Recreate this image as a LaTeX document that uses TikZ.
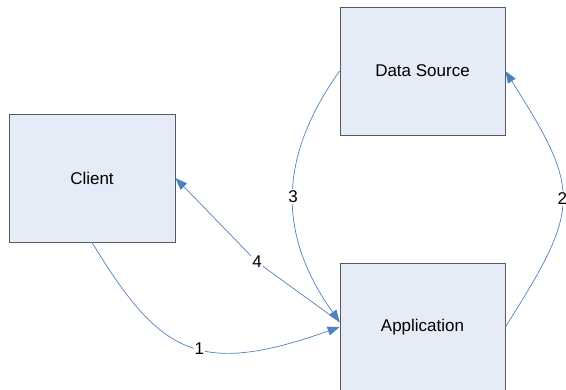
\documentclass[tikz,border=0pt]{standalone}
\usepackage{fontspec}
\setmainfont{Liberation Sans}
\usetikzlibrary{arrows.meta,calc,shadows}
\definecolor{boxfill}{HTML}{E6ECF7}
\definecolor{boxline}{HTML}{5A5A5A}
\definecolor{conncol}{HTML}{4F81BD}
\begin{document}
\begin{tikzpicture}[x=1pt,y=-1pt,
  box/.style={draw=boxline, fill=boxfill, line width=0.8pt, minimum width=165pt,
    minimum height=128pt, inner sep=0pt, font=\fontsize{17}{20}\selectfont,
    drop shadow={shadow xshift=1pt, shadow yshift=-1pt, fill=black!50, opacity=0.6}},
  conn/.style={draw=conncol, line width=0.7pt, -{Triangle[length=12pt,width=9pt]}},
  lbl/.style={fill=white, inner sep=1pt, font=\fontsize{17}{20}\selectfont}]
\useasboundingbox (0,0) rectangle (566,390);
\node[box, minimum width=166pt] (client) at (92,178) {Client};
\node[box] (ds) at (422.5,71) {Data Source};
\node[box] (app) at (422.5,327) {Application};
\coordinate (a3) at ($(app.west)+(0,-5)$);
\coordinate (k4) at (257,262);
\draw[conn] (client.south) .. controls +(68,112) and +(-141,50) .. (app.west)
  node[lbl, pos=0.55] {1};
\draw[conn] (app.east) .. controls +(76,-120) and +(76,120) .. (ds.east)
  node[lbl, pos=0.5] {2};
\draw[conn] (ds.west) .. controls +(-62,87) and +(-62,-87) .. (a3)
  node[lbl, pos=0.5] {3};
\draw[conn, rounded corners=8pt] (a3) -- (k4) -- (client.east);
\node[lbl] (l4) at (k4) {4};
\end{tikzpicture}
\end{document}
